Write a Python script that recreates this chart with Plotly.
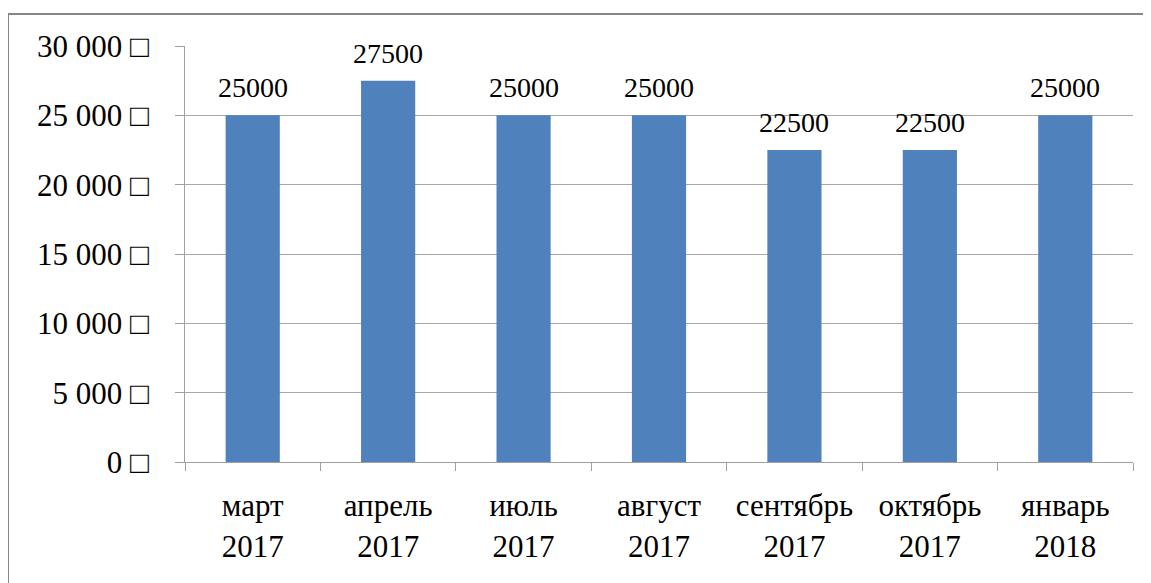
import plotly.graph_objects as go

categories = ["март<br>2017", "апрель<br>2017", "июль<br>2017", "август<br>2017",
              "сентябрь<br>2017", "октябрь<br>2017", "январь<br>2018"]
values = [25000, 27500, 25000, 25000, 22500, 22500, 25000]
tick_vals = [0, 5000, 10000, 15000, 20000, 25000, 30000]
tick_text = ["0 □", "5 000 □", "10 000 □", "15 000 □", "20 000 □", "25 000 □", "30 000 □"]

serif = "Liberation Serif, Times New Roman, serif"

fig = go.Figure(go.Bar(
    x=categories, y=values,
    marker=dict(color="#4f81bd", line=dict(width=0)),
    cliponaxis=False,
))

for c, v in zip(categories, values):
    fig.add_annotation(x=c, y=v, text=str(v), showarrow=False,
                       xanchor="center", yanchor="bottom", yshift=10,
                       font=dict(family=serif, size=28, color="#000000"))

frame = dict(color="#878787", width=2)
fig.update_layout(
    width=1143, height=575,
    margin=dict(l=177, r=18, t=38, b=121, autoexpand=False),
    paper_bgcolor="white", plot_bgcolor="white",
    bargap=0.6, showlegend=False,
    font=dict(family=serif, size=31, color="#000000"),
    shapes=[
        dict(type="line", xref="paper", yref="paper",
             x0=-0.1867, x1=1.5, y0=1.0769, y1=1.0769, line=frame, layer="below"),
        dict(type="line", xref="paper", yref="paper",
             x0=-0.1867, x1=-0.1867, y0=-0.5, y1=1.0769, line=frame, layer="below"),
    ],
)
fig.update_xaxes(
    showline=True, linecolor="#a0a0a0", linewidth=1,
    ticks="outside", ticklen=8, tickcolor="#a0a0a0",
    tickson="boundaries", showgrid=False,
    ticklabelstandoff=16, automargin=False,
    tickfont=dict(family=serif, size=31),
)
fig.update_yaxes(
    range=[0, 30000], tickvals=tick_vals, ticktext=tick_text,
    showgrid=True, gridcolor="#a8a8a8", gridwidth=1,
    showline=True, linecolor="#a0a0a0", linewidth=1,
    ticks="outside", ticklen=9, tickcolor="#a0a0a0",
    ticklabelstandoff=20, zeroline=False, automargin=False,
    tickfont=dict(family=serif, size=31),
)

fig.write_html("out.html")
